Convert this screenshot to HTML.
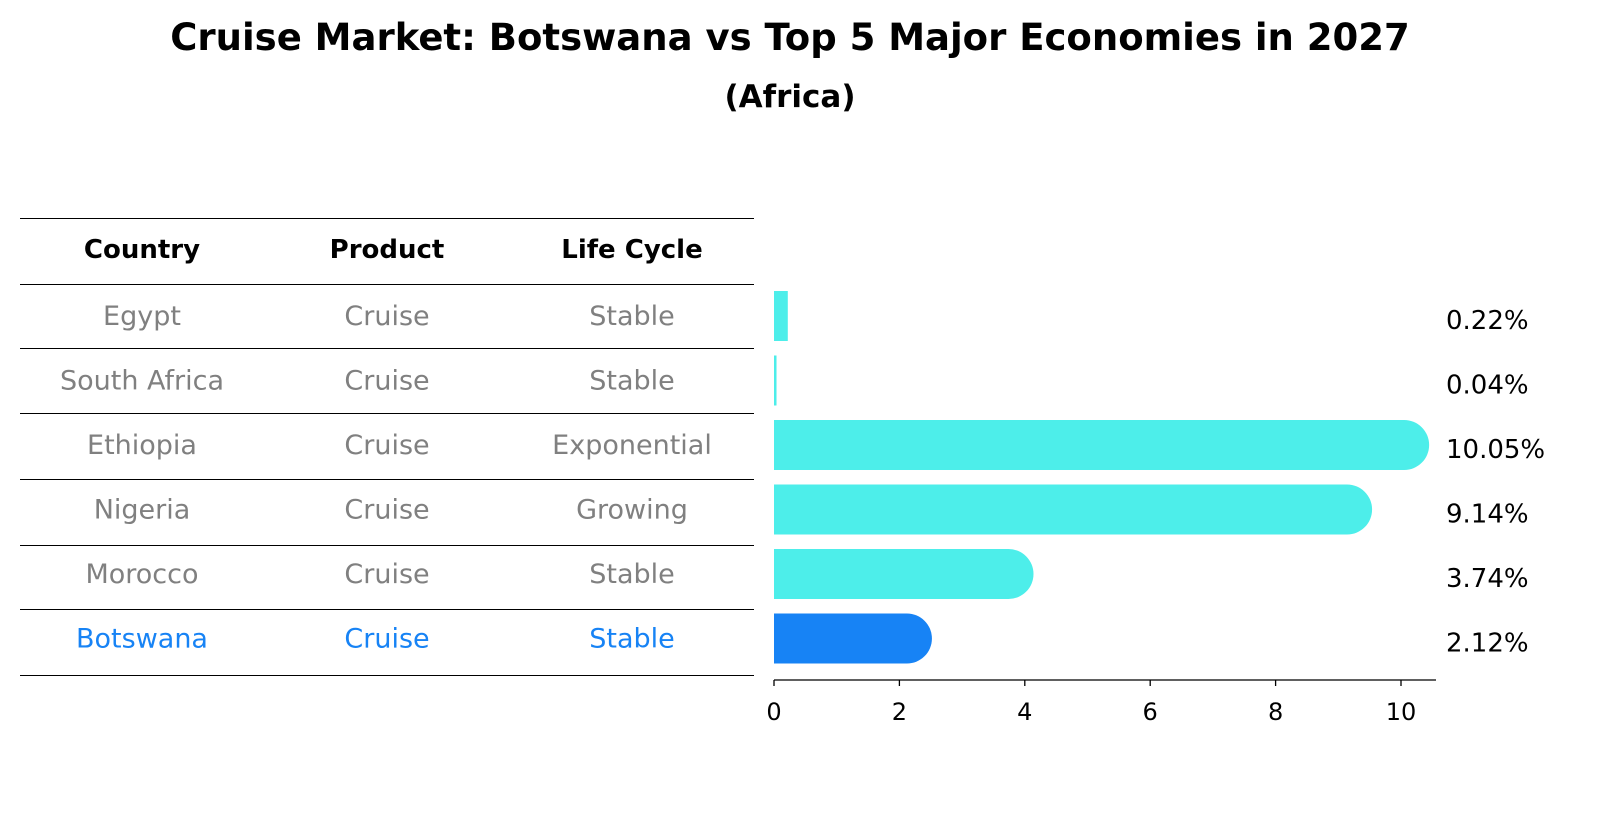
<!DOCTYPE html>
<html><head><meta charset="utf-8"><style>
body{margin:0;background:#fff;font-family:"Liberation Sans","DejaVu Sans",sans-serif;}
svg text{font-family:"DejaVu Sans","Liberation Sans",sans-serif;}
</style></head><body>
<svg id="c" width="1604" height="823" xmlns="http://www.w3.org/2000/svg">
<text x="790" y="50" text-anchor="middle" font-size="37" font-weight="bold">Cruise Market: Botswana vs Top 5 Major Economies in 2027</text>
<text x="790" y="107" text-anchor="middle" font-size="31" font-weight="bold">(Africa)</text>
<g id="tbl"></g>
<g id="bars"></g>
<g id="axis"></g>
</svg>
<script>
const countries=["Egypt","South Africa","Ethiopia","Nigeria","Morocco","Botswana"];
const products=["Cruise","Cruise","Cruise","Cruise","Cruise","Cruise"];
const lifeCycles=["Stable","Stable","Exponential","Growing","Stable","Stable"];
const values=[0.22,0.04,10.05,9.14,3.74,2.12];
const xTicks=[0,2,4,6,8,10];
const NS="http://www.w3.org/2000/svg";
function mk(t,a,p){const e=document.createElementNS(NS,t);for(const k in a)e.setAttribute(k,a[k]);p.appendChild(e);return e;}
const x0=774,sx=62.7;const xs=v=>x0+v*sx;
const rowY=i=>316+i*64.5;
const tbl=document.getElementById('tbl');
const lineYs=[218,284,348,413,479,545,609,675];
lineYs.forEach((y,i)=>{const l=mk('line',{x1:20,x2:754,y1:y+0.5,y2:y+0.5,stroke:'#000','stroke-width':1},tbl);

});
const cols=[142,387,632];
["Country","Product","Life Cycle"].forEach((h,j)=>{const t=mk('text',{x:cols[j],y:258,'text-anchor':'middle','font-size':26,'font-weight':'bold'},tbl);t.textContent=h;

});
countries.forEach((c,i)=>{const col=i===countries.length-1?'#1783F5':'#808080';
[c,products[i],lifeCycles[i]].forEach((s,j)=>{const t=mk('text',{x:cols[j],y:rowY(i)+9,'text-anchor':'middle','font-size':27,fill:col},tbl);t.textContent=s;

});});
const bars=document.getElementById('bars');const h=50;
values.forEach((v,i)=>{const y=rowY(i)-h/2;const w=xs(v)-x0;const col=i===values.length-1?'#1783F5':'#4DEEEA';
let el;
if(v>1){el=mk('path',{d:`M${x0},${y}h${w}a${h/2},${h/2} 0 0 1 0,${h}h${-w}z`,fill:col},bars);}
else{el=mk('rect',{x:x0,y:y,width:Math.max(w,2.5),height:h,fill:col},bars);}


const t=mk('text',{x:1446,y:rowY(i)+13,'font-size':26},bars);t.textContent=v.toFixed(2)+'%';

});
const ax=document.getElementById('axis');
const al=mk('line',{x1:x0,x2:1436,y1:680,y2:680,stroke:'#000','stroke-width':1.3},ax);


xTicks.forEach(v=>{const tk=mk('line',{x1:xs(v),x2:xs(v),y1:680,y2:686,stroke:'#000','stroke-width':1.3},ax);


const t=mk('text',{x:xs(v),y:720,'text-anchor':'middle','font-size':24},ax);t.textContent=v;

});
</script>
</body></html>
